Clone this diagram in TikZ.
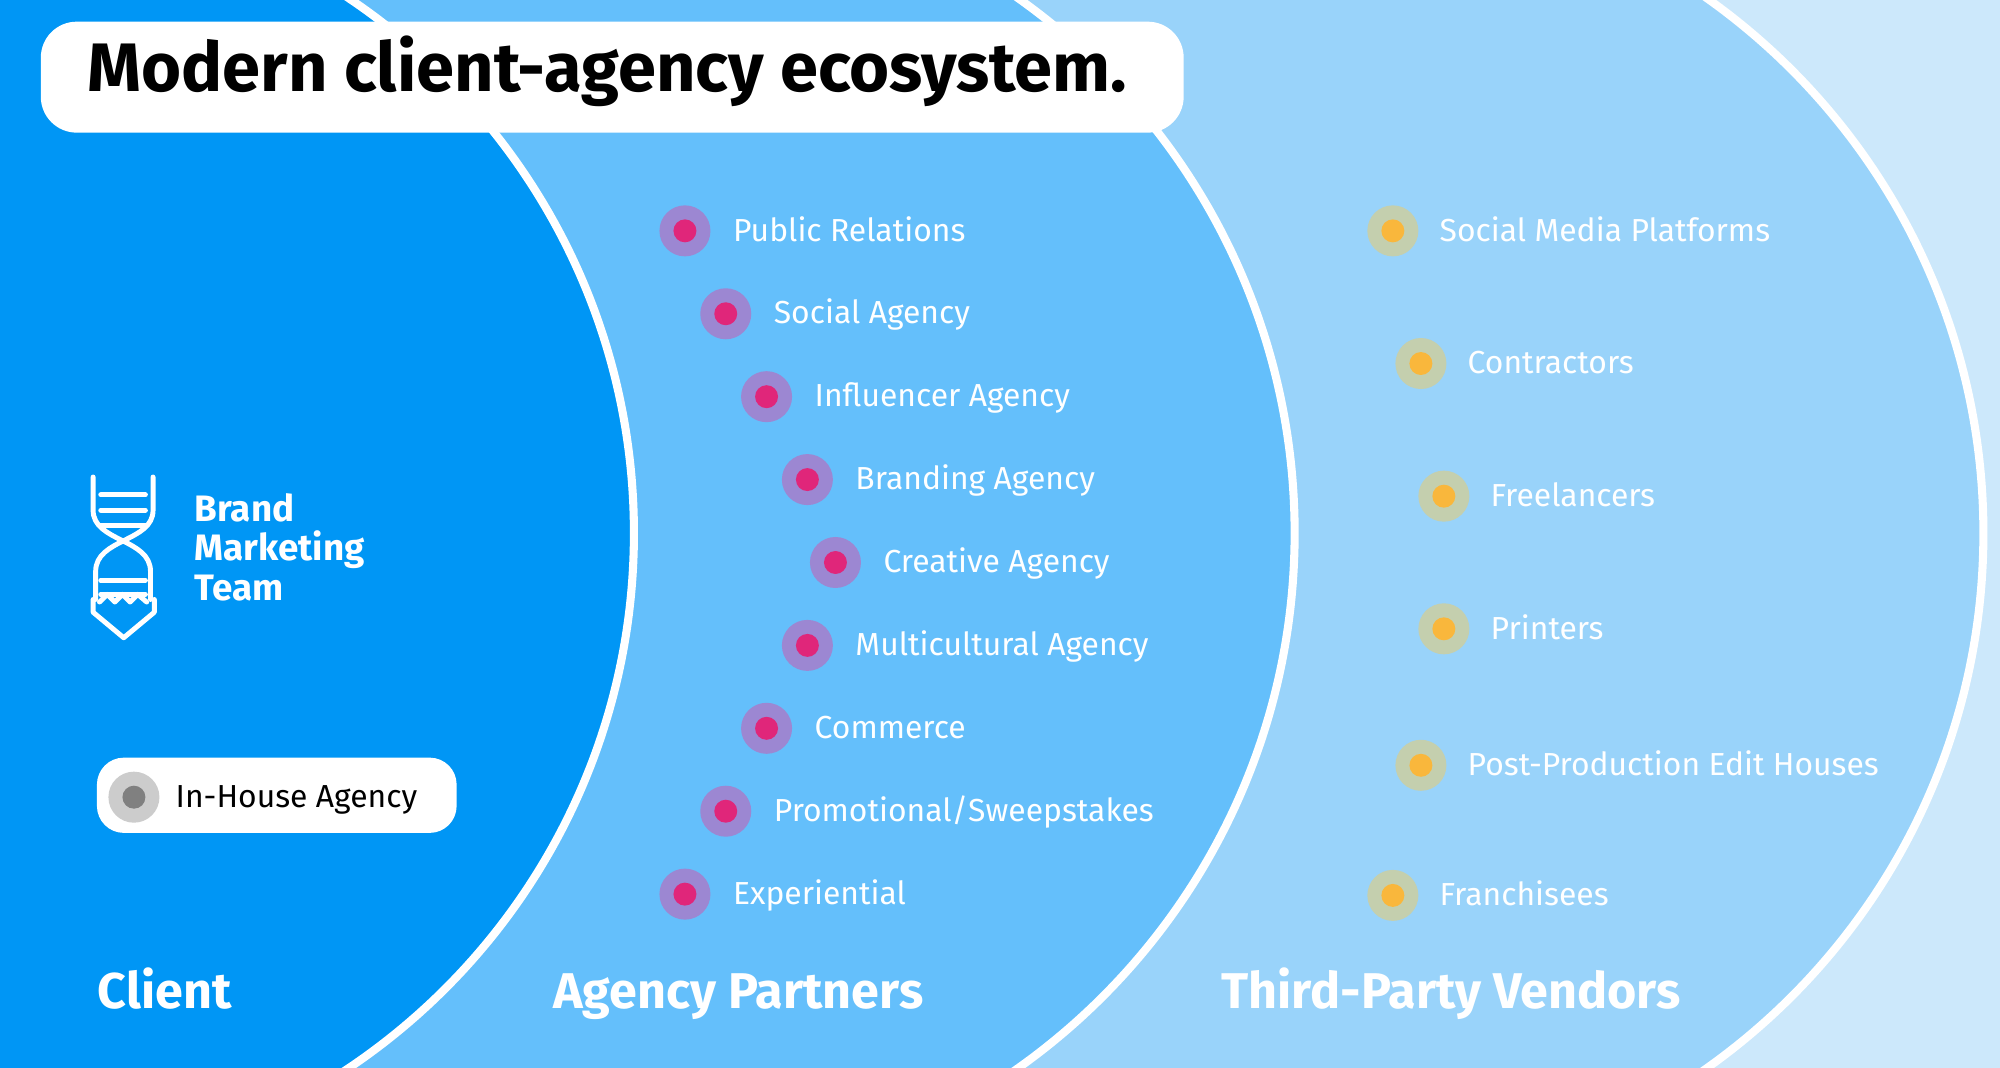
\documentclass[tikz,border=0pt]{standalone}
\usepackage{fontspec}
\setmainfont{Fira Sans}
\usetikzlibrary{positioning}
\definecolor{clientblue}{HTML}{0096F5}
\definecolor{agencyblue}{HTML}{64BFFB}
\definecolor{vendorblue}{HTML}{99D3FA}
\definecolor{outerblue}{HTML}{CCE8FB}
\definecolor{agencyhalo}{HTML}{9C87D2}
\definecolor{agencydot}{HTML}{E0267A}
\definecolor{vendorhalo}{HTML}{C4CFAE}
\definecolor{vendordot}{HTML}{F9B73C}
\tikzset{
  ring/.style={draw=white,line width=1.8pt},
  item/.style={text=white,anchor=base west,inner sep=0,font=\fontsize{7.1}{8}\selectfont},
  zone/.style={text=white,anchor=base west,inner sep=0,font=\fontsize{11.2}{12}\selectfont\bfseries},
}
\begin{document}
\begin{tikzpicture}[x=0.01cm,y=-0.01cm]
  \useasboundingbox (0,0) rectangle (1568,837);
  \begin{scope}
    \clip (0,0) rectangle (1568,837);
    \fill[outerblue] (0,0) rectangle (1568,837);
    \filldraw[fill=vendorblue,ring] (1041,418) circle (514);
    \filldraw[fill=agencyblue,ring] (501,418) circle (514);
    \filldraw[fill=clientblue,ring] (-8,418) circle (505);
  \end{scope}

  % title
  \fill[white,rounded corners=8] (32,17) rectangle (928,104);
  \node[anchor=base west,inner sep=0,font=\fontsize{15.3}{16}\selectfont\bfseries] (title) at (68,72) {Modern client-agency ecosystem.};

  % brand marketing team
  \begin{scope}[draw=white,line width=1.1pt,line cap=round,line join=round]
    \draw (73,374) -- (73,400) .. controls (73,425) and (118,422) .. (118,448) -- (118,470);
    \draw (120,374) -- (120,400) .. controls (120,425) and (75,422) .. (75,448) -- (75,470);
    \foreach \y in {388,400,412,455,466} \draw (79,\y) -- (114,\y);
    \draw (73,470) -- (73,480) -- (97,500) -- (121,480) -- (121,470);
    \draw (78,472) -- (84,466) -- (90,472) -- (96,466) -- (102,472) -- (108,466) -- (115,472);
  \end{scope}
  \node[anchor=north west,inner sep=0,text=white,align=left,font=\fontsize{8.2}{8.8}\selectfont\bfseries] (brand) at (152,386) {Brand\\Marketing\\Team};

  % in-house
  \fill[white,rounded corners=6] (76,594) rectangle (358,653);
  \fill[gray!40] (105,625) circle (20);
  \fill[gray] (105,625) circle (9);
  \node[anchor=base west,inner sep=0,font=\fontsize{7.1}{8}\selectfont] (inhouse) at (137,633) {In-House Agency};

  % agency partners
  \foreach \x/\y/\t in {537/181/Public Relations,569/246/Social Agency,601/311/Influencer Agency,633/376/Branding Agency,655/441/Creative Agency,633/506/Multicultural Agency,601/571/Commerce,569/636/{Promotional/Sweepstakes},537/701/Experiential}{
    \fill[agencyhalo] (\x,\y) circle (20);
    \fill[agencydot] (\x,\y) circle (9);
    \node[item] at (\x+37,\y+8) {\t};
  }

  % vendors
  \foreach \x/\y/\t in {1092/181/Social Media Platforms,1114/285/Contractors,1132/389/Freelancers,1132/493/Printers,1114/600/Post-Production Edit Houses,1092/702/Franchisees}{
    \fill[vendorhalo] (\x,\y) circle (20);
    \fill[vendordot] (\x,\y) circle (9);
    \node[item] at (\x+36,\y+8) {\t};
  }

  \node[zone] (client) at (76,791) {Client};
  \node[zone] (agency) at (433,791) {Agency Partners};
  \node[zone] (vendor) at (957,791) {Third-Party Vendors};
\end{tikzpicture}
\end{document}
